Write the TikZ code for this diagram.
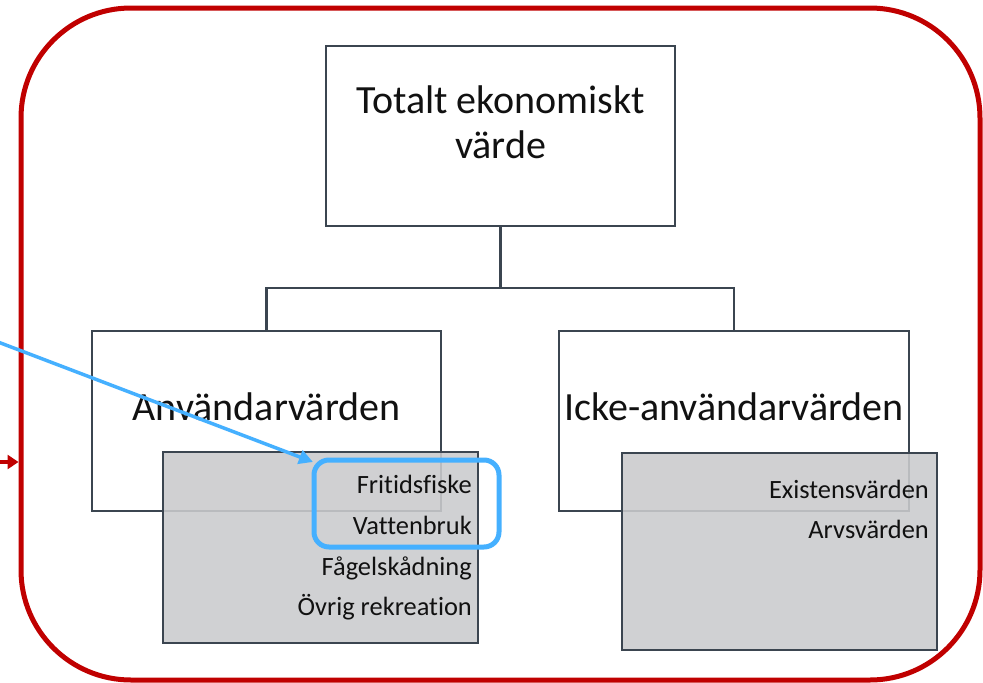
\documentclass[tikz,border=0pt]{standalone}
\usepackage{fontspec}
\setmainfont{Carlito}[Ligatures={NoCommon,NoContextual}]
\usetikzlibrary{arrows.meta}
\definecolor{framered}{HTML}{C00000}
\definecolor{boxline}{HTML}{3B4550}
\definecolor{greyfill}{RGB}{202,203,205}
\definecolor{hiblue}{HTML}{45B0FF}
\definecolor{txt}{HTML}{111111}
\tikzset{
  whitebox/.style={draw=boxline, line width=2.3pt, fill=white, inner sep=0pt},
  greybox/.style={draw=boxline, line width=2.3pt, fill=greyfill, fill opacity=0.885, draw opacity=1, inner sep=0pt},
  conn/.style={draw=boxline, line width=2.3pt},
  bigtxt/.style={font=\fontsize{40}{45}\selectfont, text=txt, inner sep=0pt},
  smalltxt/.style={font=\fontsize{26.4}{30}\selectfont, text=txt, inner sep=0pt, anchor=base east},
}
\begin{document}
\begin{tikzpicture}[x=1pt,y=-1pt]
\useasboundingbox (0,0) rectangle (983,683);
% outer red frame
\node[draw=framered, line width=5pt, rounded corners=110pt, minimum width=959pt, minimum height=672pt, inner sep=0pt] (frame) at (500.5,344) {};
% top box
\node[whitebox, minimum width=349pt, minimum height=180pt] (top) at (500.5,136) {};
\node[bigtxt, anchor=base] (t1) at (500.5,113) {Totalt ekonomiskt};
\node[bigtxt, anchor=base] (t2) at (500.5,158) {värde};
% lower boxes
\node[whitebox, minimum width=349pt, minimum height=180pt] (use) at (266.5,421) {};
\node[whitebox, minimum width=350pt, minimum height=180pt] (nonuse) at (734,421) {};
\coordinate (split) at (500.5,288);
\draw[conn] (top.south) -- (split);
\draw[conn] (use.north) |- (split) -| (nonuse.north);
\node[bigtxt, anchor=base] (usetxt) at (266.5,420) {Användarvärden};
\node[bigtxt, anchor=base] (nonusetxt) at (734,420) {Icke-användarvärden};
% grey boxes
\node[greybox, minimum width=315pt, minimum height=191pt] (g1) at (320.5,547.5) {};
\node[greybox, minimum width=315pt, minimum height=197pt] (g2) at (779.5,551.5) {};
\node[smalltxt] (f1) at (472,493) {Fritidsfiske};
\node[smalltxt] (f2) at (472,534) {Vattenbruk};
\node[smalltxt] (f3) at (472,575) {Fågelskådning};
\node[smalltxt] (f4) at (472,615) {Övrig rekreation};
\node[smalltxt] (e1) at (929,498) {Existensvärden};
\node[smalltxt] (e2) at (929,538) {Arvsvärden};
% blue highlight
\node[draw=hiblue, line width=5pt, rounded corners=15pt, minimum width=185pt, minimum height=87pt, inner sep=0pt] (hl) at (406.5,503.5) {};
\coordinate (bstart) at (-2,342);
\coordinate (btip) at (313,462);
\draw[hiblue, line width=3.5pt, -{Triangle[length=14pt,width=14pt]}] (bstart) -- (btip);
% red arrow
\coordinate (rstart) at (0,462);
\draw[framered, line width=3.5pt, -{Triangle[length=11pt,width=14pt]}] (rstart) -- (frame.west |- rstart);
\end{tikzpicture}
\end{document}
